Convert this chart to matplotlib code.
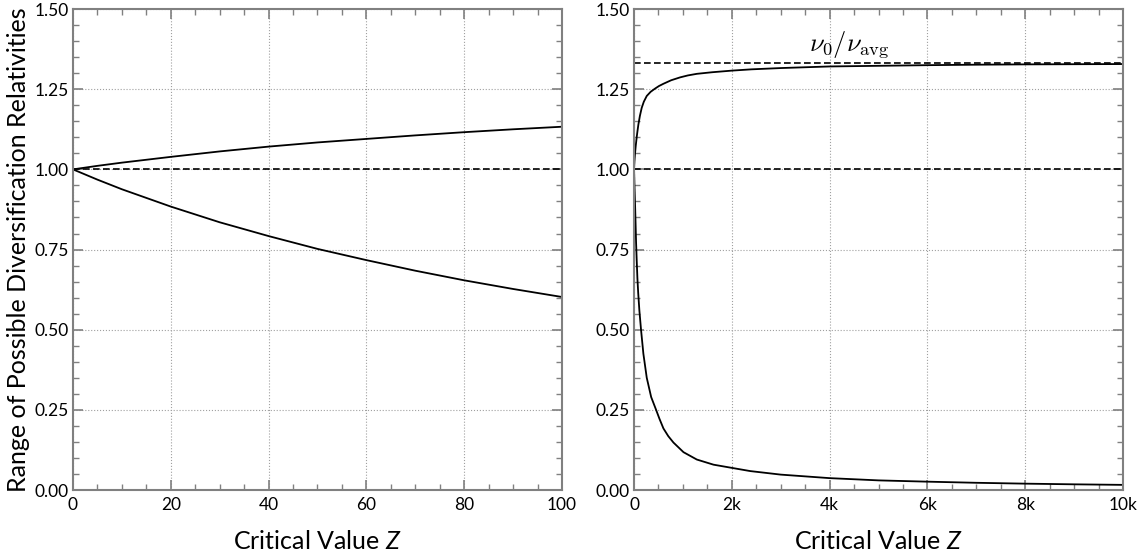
import matplotlib.pyplot as plt
from matplotlib.ticker import MultipleLocator, FuncFormatter

plt.rcParams.update({
    "font.family": "Lato",
    "mathtext.fontset": "custom",
    "mathtext.rm": "Lato",
    "mathtext.it": "Lato:italic",
})

# values
z_small = [0, 5, 10, 20, 30, 40, 50, 60, 70, 80, 90, 100]
upper_small = [1.000, 1.011, 1.021, 1.039, 1.056, 1.071, 1.084, 1.095, 1.106, 1.116, 1.125, 1.133]
lower_small = [1.000, 0.968, 0.938, 0.884, 0.835, 0.792, 0.752, 0.717, 0.684, 0.654, 0.627, 0.602]

z_up = [0, 5, 10, 20, 35, 55, 70, 89, 120, 157, 200, 260, 340, 430, 510, 601, 760, 943,
        1100, 1284, 1600, 2000, 2400, 3000, 4000, 5000, 6000, 7000, 8000, 9000, 10000]
upper_large = [1.000, 1.016, 1.029, 1.049, 1.074, 1.101, 1.119, 1.140, 1.167, 1.192, 1.211,
               1.229, 1.242, 1.252, 1.260, 1.267, 1.278, 1.287, 1.293, 1.298, 1.303,
               1.308, 1.312, 1.316, 1.321, 1.323, 1.325, 1.3265, 1.3275, 1.328, 1.3285]

z_low = [0, 10, 20, 30, 41, 55, 69, 85, 109, 143, 191, 260, 350, 451, 520, 601, 700, 806,
         1011, 1284, 1625, 2000, 2377, 3000, 4000, 5000, 6000, 7000, 8000, 9000, 10000]
lower_large = [1.000, 0.945, 0.895, 0.840, 0.775, 0.715, 0.660, 0.615, 0.560, 0.500, 0.425,
               0.350, 0.290, 0.250, 0.222, 0.192, 0.168, 0.148, 0.118, 0.095, 0.079,
               0.069, 0.059, 0.048, 0.037, 0.030, 0.026, 0.0225, 0.0198, 0.0177, 0.016]

ref_one = 1.0
ref_ratio = 4 / 3

spine_col = "#808080"
grid_col = "#a0a0a0"

fig = plt.figure(figsize=(11.42, 5.56), dpi=100)
ax1 = fig.add_axes([0.0639, 0.1187, 0.4282, 0.865])
ax2 = fig.add_axes([0.5552, 0.1187, 0.4282, 0.865])


def style(ax):
    for s in ax.spines.values():
        s.set_color(spine_col)
        s.set_linewidth(1.5)
    ax.tick_params(axis='both', which='both', direction='in', top=True, right=True,
                   color=spine_col, labelsize=12.5)
    ax.tick_params(axis='x', which='both', pad=5)
    ax.tick_params(axis='y', which='both', pad=3)
    ax.tick_params(which='major', length=7, width=1.2)
    ax.tick_params(which='minor', length=4, width=1.0)
    ax.yaxis.set_major_locator(MultipleLocator(0.25))
    ax.yaxis.set_minor_locator(MultipleLocator(0.05))
    ax.yaxis.set_major_formatter(FuncFormatter(lambda v, p: f"{v:.2f}"))
    ax.set_ylim(0, 1.5)
    ax.grid(True, which='major', linestyle=':', color=grid_col, linewidth=0.8)
    ax.set_axisbelow(True)
    ax.set_xlabel(r"Critical Value $Z$", fontsize=18, labelpad=12)


# left panel
ax1.plot(z_small, upper_small, color='k', lw=1.3)
ax1.plot(z_small, lower_small, color='k', lw=1.3)
ax1.axhline(ref_one, color='k', lw=1.2, ls=(0, (4, 2)))
ax1.set_xlim(0, 100)
ax1.xaxis.set_major_locator(MultipleLocator(20))
ax1.xaxis.set_minor_locator(MultipleLocator(5))
style(ax1)
ax1.set_ylabel("Range of Possible Diversification Relativities", fontsize=18, labelpad=3)

# right panel
ax2.plot(z_up, upper_large, color='k', lw=1.3)
ax2.plot(z_low, lower_large, color='k', lw=1.3)
ax2.axhline(ref_one, color='k', lw=1.2, ls=(0, (4, 2)))
ax2.axhline(ref_ratio, color='k', lw=1.2, ls=(0, (4, 2)))
ax2.set_xlim(0, 10000)
ax2.xaxis.set_major_locator(MultipleLocator(2000))
ax2.xaxis.set_minor_locator(MultipleLocator(500))
ax2.xaxis.set_major_formatter(FuncFormatter(lambda v, p: "0" if v == 0 else f"{int(v / 1000)}k"))
style(ax2)
ax2.text(4400, 1.39, r"$\nu_0/\nu_{\rm avg}$", ha='center', va='center', fontsize=19,
         math_fontfamily='cm')

plt.savefig("out.png", dpi=100)
